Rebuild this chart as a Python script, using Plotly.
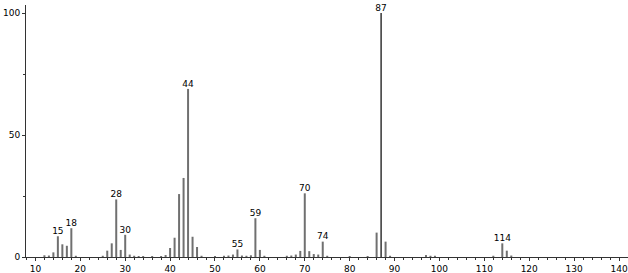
import plotly.graph_objects as go

mz = [12, 13, 14, 15, 16, 17, 18, 19, 25, 26, 27, 28, 29, 30, 31, 32, 33, 34, 36, 38, 39,
      40, 41, 42, 43, 44, 45, 46, 47, 50, 52, 53, 54, 55, 56, 57, 58, 59, 60, 61,
      66, 67, 68, 69, 70, 71, 72, 73, 74, 75, 80, 84, 86, 87, 88, 89, 97, 98, 99, 112, 114, 115, 116]
intensity = [0.7, 0.6, 1.9, 8.5, 5.2, 4.6, 11.8, 0.5, 0.5, 2.6, 5.6, 23.6, 2.9, 9.1, 1.0, 0.5, 0.4, 0.4, 0.4, 0.4, 0.8,
             3.7, 7.9, 25.8, 32.4, 68.9, 8.3, 4.1, 0.5, 0.4, 0.5, 0.6, 1.0, 3.1, 0.6, 0.5, 0.7, 15.9, 2.9, 0.5,
             0.5, 0.6, 1.0, 2.5, 26.1, 2.4, 1.2, 1.0, 6.3, 0.5, 0.4, 0.4, 10.0, 100.0, 6.3, 0.5, 0.8, 0.5, 0.5, 0.5, 5.6, 2.6, 0.6]
labeled = [15, 18, 28, 30, 44, 55, 59, 70, 74, 87, 114]

xs, ys = [], []
for m, v in zip(mz, intensity):
    if m == 87:
        continue
    xs += [m, m, None]
    ys += [0, v, None]

fig = go.Figure()
fig.add_trace(go.Scatter(x=xs, y=ys, mode="lines", line=dict(color="#707070", width=2),
                         hoverinfo="skip", showlegend=False))
bx = [m for m in mz if m == 87]
by = [v for m, v in zip(mz, intensity) if m == 87]
fig.add_trace(go.Scatter(x=[bx[0], bx[0]], y=[0, by[0]], mode="lines",
                         line=dict(color="#000000", width=1.2), showlegend=False))
lx = [m for m in mz if m in labeled]
ly = [v for m, v in zip(mz, intensity) if m in labeled]
fig.add_trace(go.Scatter(x=lx, y=ly, mode="text", text=[str(m) for m in lx],
                         textposition="top center", cliponaxis=False,
                         textfont=dict(family="DejaVu Sans", size=9, color="#000"),
                         showlegend=False))

fig.update_layout(
    width=628, height=273,
    margin=dict(l=26, r=0, t=5, b=16),
    paper_bgcolor="white", plot_bgcolor="white",
    font=dict(family="DejaVu Sans", size=9, color="#000"),
)
fig.update_xaxes(range=[7.9, 142.0], tickvals=list(range(10, 150, 10)),
                 showgrid=False, zeroline=False, showline=True, linecolor="#333", linewidth=1,
                 ticks="outside", ticklen=3, tickcolor="#333",
                 minor=dict(dtick=2, tick0=0, ticks="outside", ticklen=2, tickcolor="#333"))
fig.update_yaxes(range=[0, 103.3], tickvals=[0, 50, 100],
                 showgrid=False, zeroline=False, showline=True, linecolor="#333", linewidth=1,
                 ticks="outside", ticklen=3, tickcolor="#333",
                 minor=dict(tickvals=[25, 75], ticks="outside", ticklen=2, tickcolor="#333"))
fig.write_html("out.html")
